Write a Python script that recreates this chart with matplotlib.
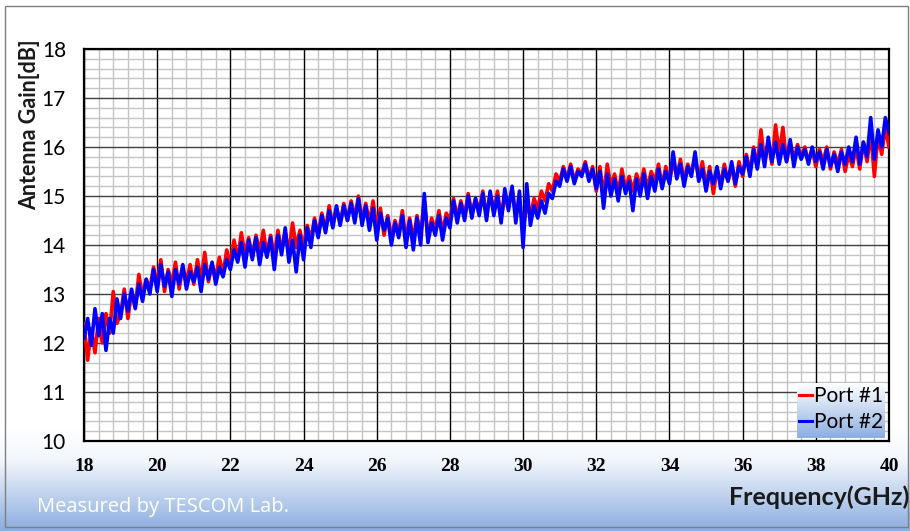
import numpy as np
import matplotlib
matplotlib.use('Agg')
import matplotlib.pyplot as plt
from matplotlib.lines import Line2D
from matplotlib.colors import LinearSegmentedColormap

# 频率轴: 18 ~ 40 GHz, 0.1 GHz 间隔
freq = np.round(np.arange(18.0, 40.05, 0.1), 1)

# Port #1 (红) 读图数值, 每行 1 GHz
port1 = [
    12.4, 11.65, 12.3, 11.8, 12.5, 12.0, 12.6, 12.2, 13.05, 12.4,
    12.6, 13.1, 12.5, 13.05, 12.75, 13.4, 12.95, 13.3, 13.1, 13.55,
    13.2, 13.7, 13.05, 13.5, 13.2, 13.65, 13.1, 13.55, 13.25, 13.6,
    13.2, 13.7, 13.3, 13.85, 13.25, 13.6, 13.35, 13.75, 13.4, 13.9,
    13.6, 14.1, 13.7, 14.25, 13.8, 14.15, 13.75, 14.2, 13.85, 14.3,
    13.8, 14.2, 13.75, 14.3, 13.9, 14.25, 13.85, 14.45, 13.95, 14.3,
    13.95, 14.4, 14.1, 14.55, 14.2, 14.65, 14.3, 14.8, 14.4, 14.75,
    14.45, 14.85, 14.5, 14.9, 14.55, 15.0, 14.5, 14.85, 14.45, 14.9,
    14.35, 14.75, 14.2, 14.6, 14.15, 14.5, 14.25, 14.7, 14.1, 14.55,
    14.1, 14.6, 14.2, 14.9, 14.15, 14.55, 14.3, 14.7, 14.25, 14.65,
    14.5, 14.95, 14.55, 14.9, 14.6, 15.05, 14.65, 14.95, 14.7, 15.1,
    14.6, 15.05, 14.7, 15.1, 14.55, 15.0, 14.75, 15.15, 14.6, 14.9,
    14.35, 14.8, 14.6, 14.95, 14.75, 15.1, 14.9, 15.25, 15.1, 15.45,
    15.3, 15.6, 15.35, 15.65, 15.3, 15.55, 15.45, 15.7, 15.35, 15.6,
    15.1, 15.6, 15.0, 15.65, 15.2, 15.45, 15.05, 15.55, 15.15, 15.4,
    15.1, 15.45, 15.2, 15.55, 15.15, 15.5, 15.3, 15.65, 15.2, 15.6,
    15.3, 15.7, 15.4, 15.75, 15.3, 15.65, 15.45, 15.8, 15.35, 15.7,
    15.2, 15.6, 15.05, 15.55, 15.25, 15.65, 15.3, 15.6, 15.2, 15.7,
    15.4, 15.85, 15.5, 16.0, 15.6, 16.35, 15.7, 16.1, 15.65, 16.45,
    15.85, 16.4, 15.7, 16.1, 15.75, 16.05, 15.8, 16.0, 15.7, 15.95,
    15.6, 15.95, 15.7, 16.0, 15.55, 15.9, 15.65, 15.95, 15.5, 15.85,
    15.6, 16.0, 15.55, 16.1, 15.7, 16.3, 15.4, 16.25, 15.85, 16.4,
    16.0,
]

# Port #2 (蓝) 读图数值
port2 = [
    12.1, 12.5, 11.95, 12.7, 12.15, 12.6, 11.85, 12.5, 12.2, 12.9,
    12.5, 13.0, 12.65, 13.1, 12.7, 13.2, 12.85, 13.3, 13.0, 13.5,
    13.05, 13.6, 13.15, 13.45, 12.95, 13.5, 13.2, 13.6, 13.1, 13.45,
    13.25, 13.55, 13.05, 13.6, 13.3, 13.65, 13.2, 13.55, 13.35, 13.7,
    13.5, 13.9, 13.65, 14.05, 13.55, 14.1, 13.7, 14.15, 13.6, 14.05,
    13.75, 14.15, 13.5, 14.2, 13.8, 14.35, 13.65, 14.1, 13.45, 14.2,
    13.7, 14.35, 13.95, 14.5, 14.15, 14.6, 14.25, 14.7, 14.35, 14.8,
    14.4, 14.8, 14.5, 14.85, 14.45, 14.95, 14.4, 14.8, 14.3, 14.75,
    14.1, 14.65, 14.3, 14.55, 14.0, 14.45, 14.15, 14.6, 13.95, 14.5,
    13.9, 14.55, 14.0, 15.05, 14.05, 14.45, 14.2, 14.6, 14.1, 14.55,
    14.35, 14.9, 14.45, 14.85, 14.5, 15.0, 14.55, 14.95, 14.6, 15.05,
    14.5, 15.1, 14.6, 15.0, 14.45, 15.15, 14.7, 15.2, 14.45, 15.1,
    13.95, 15.25, 14.4, 14.8, 14.55, 14.9, 14.65, 15.05, 14.95, 15.3,
    15.2, 15.55, 15.3, 15.6, 15.25, 15.5, 15.4, 15.65, 15.3, 15.55,
    15.15, 15.5, 14.75, 15.45, 15.0, 15.35, 14.9, 15.4, 15.05, 15.3,
    14.7, 15.35, 15.0, 15.45, 14.95, 15.4, 15.1, 15.55, 15.15, 15.5,
    15.25, 15.9, 15.35, 15.65, 15.2, 15.6, 15.4, 15.9, 15.3, 15.55,
    15.1, 15.5, 15.25, 15.6, 15.15, 15.55, 15.3, 15.7, 15.25, 15.6,
    15.45, 15.8, 15.4, 15.95, 15.55, 16.05, 15.6, 16.2, 15.7, 16.1,
    15.65, 16.05, 15.7, 16.15, 15.6, 16.0, 15.75, 15.95, 15.65, 16.0,
    15.7, 15.9, 15.55, 15.95, 15.6, 15.85, 15.5, 15.9, 15.65, 16.0,
    15.7, 16.2, 15.65, 16.1, 15.8, 16.6, 15.75, 16.35, 16.0, 16.6,
    16.3,
]

labels = ['Port #1', 'Port #2']
colors = ['#ff0000', '#0000ff']

xticks = list(range(18, 41, 2))
yticks = list(range(10, 19))

SANS = ['Lato', 'DejaVu Sans']

fig = plt.figure(figsize=(9.1, 5.31), dpi=100)
W, H = 910, 531

# 背景: 上白下蓝渐变
bg = fig.add_axes([0, 0, 1, 1], zorder=-1)
bg_cmap = LinearSegmentedColormap.from_list('bg', [(0.0, '#ffffff'), (0.81, '#ffffff'), (0.87, '#f2f6fc'), (1.0, '#8caee0')])
grad = np.linspace(0, 1, 531).reshape(-1, 1)
bg.imshow(grad, aspect='auto', cmap=bg_cmap, extent=[0, 1, 0, 1], origin='upper')
bg.set_xlim(0, 1)
bg.set_ylim(0, 1)
bg.axis('off')
# 外框
bg.add_patch(plt.Rectangle((5 / W, 1 - 527 / H), 903 / W, 521 / H, fill=False,
                           edgecolor='#7f7f7f', lw=1.0))

ax = fig.add_axes([84 / W, 1 - 441 / H, 805 / W, 392 / H])
ax.set_facecolor('white')
ax.set_axisbelow(True)

for y, lab, c in zip([port1, port2], labels, colors):
    ax.plot(freq, y, color=c, lw=2.6, label=lab, zorder=3)

ax.set_xlim(18, 40)
ax.set_ylim(10, 18)
ax.set_xticks(xticks)
ax.set_yticks(yticks)
ax.set_xticks([v for v in np.arange(18, 40.01, 0.4) if abs(v / 2 - round(v / 2)) > 1e-6], minor=True)
ax.set_yticks([v for v in np.arange(10, 18.01, 0.2) if abs(v - round(v)) > 1e-6], minor=True)
ax.grid(True, which='minor', color='#c4c4c4', lw=1.0)
# 主网格线画在次网格之上
for xv in xticks:
    ax.axvline(xv, color='black', lw=1.0, zorder=1)
for yv in yticks:
    ax.axhline(yv, color='#404040', lw=1.0, zorder=1)
ax.tick_params(which='both', length=0)
ax.tick_params(axis='y', pad=13, labelsize=15)
ax.tick_params(axis='x', pad=12)
for t in ax.get_yticklabels():
    t.set_family(SANS)
for t in ax.get_xticklabels():
    t.set_family(['Liberation Serif', 'DejaVu Serif'])
    t.set_fontweight('bold')
    t.set_fontsize(14)
for sp in ax.spines.values():
    sp.set_color('black')
    sp.set_linewidth(1.6)

fig.text(30 / W, 1 - 125 / H, 'Antenna Gain[dB]', rotation=90, ha='center', va='center',
         fontsize=15.5, fontweight='bold', family=SANS, color='#1a1a1a')
fig.text(0.999, 1 - 497 / H, 'Frequency(GHz)', ha='right', va='center',
         fontsize=18, fontweight='bold', family=SANS, color='#1a1a1a')
fig.text(37 / W, 1 - 507 / H, 'Measured by TESCOM Lab.', ha='left', va='center',
         fontsize=14.5, family=['Open Sans', 'DejaVu Sans'], color='white')

# 图例背景渐变
lg_bg = fig.add_axes([797 / W, 1 - 438 / H, 88 / W, 55 / H], zorder=3)
lg_cmap = LinearSegmentedColormap.from_list('lg', ['#ffffff', '#8caee0'])
lg_bg.imshow(grad, aspect='auto', cmap=lg_cmap, extent=[0, 1, 0, 1], origin='upper')
lg_bg.axis('off')

handles = [Line2D([], [], color=c, lw=2.2) for c in colors]
leg = fig.legend(handles, labels, loc='center', bbox_to_anchor=(841 / W, 1 - 409 / H),
                 frameon=False, handlelength=0.6, handletextpad=0.1, labelspacing=0.3,
                 prop={'family': SANS, 'size': 15})
leg.set_zorder(6)

fig.savefig('out.png', dpi=100)
